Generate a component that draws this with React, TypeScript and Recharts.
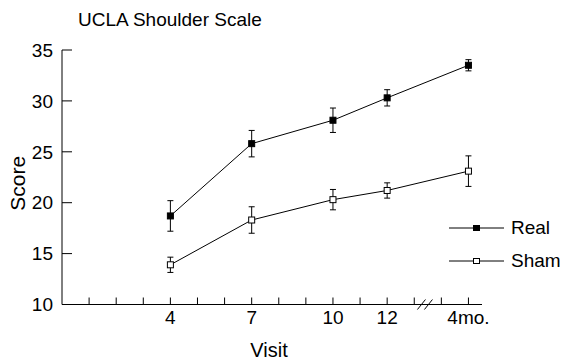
import React from 'react';
import { LineChart, Line, XAxis, YAxis, ErrorBar, Legend, ReferenceDot } from 'recharts';

// visit number on the x scale (4mo. follow-up drawn at 15, after the axis break)
const visits = [4, 7, 10, 12, 15];
const realScore = [18.7, 25.8, 28.1, 30.3, 33.5];
const realErr = [1.5, 1.3, 1.2, 0.8, 0.55];
const shamScore = [13.9, 18.3, 20.3, 21.2, 23.1];
const shamErr = [0.75, 1.3, 1.0, 0.75, 1.5];

const xTicks = [1, 2, 3, 4, 5, 6, 7, 8, 9, 10, 11, 12, 13, 14, 15];
const xTickLabels: Record<number, string> = { 4: '4', 7: '7', 10: '10', 12: '12', 15: '4mo.' };
const yTicks = [10, 15, 20, 25, 30, 35];
const axisBreakAt = 13.45;

const data = visits.map((v, i) => ({
  visit: v,
  real: realScore[i],
  realErr: realErr[i],
  sham: shamScore[i],
  shamErr: shamErr[i],
}));

const FONT = '"Liberation Sans", Arial, Helvetica, sans-serif';

const squareDot = (fill: string) => (p: any) => (
  <rect
    key={`d-${p.index}`}
    x={p.cx - 3}
    y={p.cy - 3}
    width={6}
    height={6}
    fill={fill}
    stroke="#000"
    strokeWidth={1}
  />
);

const legendItems = [
  { name: 'Real', fill: '#000' },
  { name: 'Sham', fill: '#fff' },
];

const renderLegend = () => (
  <div style={{ fontFamily: FONT, fontSize: 19, color: '#000' }}>
    {legendItems.map((it) => (
      <div key={it.name} style={{ display: 'flex', alignItems: 'center', height: 33.5 }}>
        <svg width={56} height={12} style={{ display: 'block' }}>
          <line x1={0} y1={6} x2={55} y2={6} stroke="#000" strokeWidth={1} />
          <rect x={24.5} y={3.5} width={6} height={5} fill={it.fill} stroke="#000" strokeWidth={1} />
        </svg>
        <span style={{ marginLeft: 6 }}>{it.name}</span>
      </div>
    ))}
  </div>
);

const AxisBreak = (p: any) => (
  <g>
    <line x1={p.cx - 9} y1={p.cy + 5} x2={p.cx - 1} y2={p.cy - 5} stroke="#000" strokeWidth={1} />
    <line x1={p.cx - 2} y1={p.cy + 5} x2={p.cx + 6} y2={p.cy - 5} stroke="#000" strokeWidth={1} />
  </g>
);

export default function App() {
  return (
    <div style={{ position: 'absolute', left: 0, top: 0, width: 563, height: 361, background: '#fff' }}>
      <div
        style={{
          position: 'absolute',
          left: 78,
          top: 10,
          fontFamily: FONT,
          fontSize: 19,
          lineHeight: '19px',
          color: '#000',
          whiteSpace: 'nowrap',
        }}
      >
        UCLA Shoulder Scale
      </div>
      <LineChart width={563} height={361} data={data} margin={{ top: 50, right: 81, bottom: 16.5, left: 12 }}>
        <XAxis
          dataKey="visit"
          type="number"
          domain={[0, 15.5]}
          ticks={xTicks}
          interval={0}
          tickFormatter={(v: number) => xTickLabels[v] ?? ''}
          height={40}
          tickSize={-7}
          tickMargin={13}
          stroke="#000"
          tick={{ fill: '#000', fontSize: 19, fontFamily: FONT }}
          label={{
            content: ({ viewBox }: any) => (
              <text
                x={viewBox.x + viewBox.width / 2 - 3}
                y={viewBox.y + 52}
                textAnchor="middle"
                fontFamily={FONT}
                fontSize={20}
                fill="#000"
              >
                Visit
              </text>
            ),
          }}
        />
        <YAxis
          type="number"
          domain={[10, 35]}
          ticks={yTicks}
          interval={0}
          width={50}
          tickSize={-10}
          tickMargin={19}
          stroke="#000"
          tick={{ fill: '#000', fontSize: 19, fontFamily: FONT }}
          label={{
            content: ({ viewBox }: any) => {
              const x = viewBox.x + 13;
              const y = viewBox.y + viewBox.height / 2 + 6;
              return (
                <text
                  x={x}
                  y={y}
                  textAnchor="middle"
                  transform={`rotate(-90 ${x} ${y})`}
                  fontFamily={FONT}
                  fontSize={21}
                  fill="#000"
                >
                  Score
                </text>
              );
            },
          }}
        />
        <ReferenceDot x={axisBreakAt} y={10} r={0} ifOverflow="visible" shape={AxisBreak} />
        <Line
          dataKey="real"
          name="Real"
          stroke="#000"
          strokeWidth={1}
          dot={squareDot('#000')}
          isAnimationActive={false}
        >
          <ErrorBar dataKey="realErr" width={3} stroke="#000" strokeWidth={1} direction="y" isAnimationActive={false} />
        </Line>
        <Line
          dataKey="sham"
          name="Sham"
          stroke="#000"
          strokeWidth={1}
          dot={squareDot('#fff')}
          isAnimationActive={false}
        >
          <ErrorBar dataKey="shamErr" width={3} stroke="#000" strokeWidth={1} direction="y" isAnimationActive={false} />
        </Line>
        <Legend
          layout="vertical"
          align="center"
          verticalAlign="middle"
          content={renderLegend}
          wrapperStyle={{ left: 449, top: 211, width: 114 }}
        />
      </LineChart>
    </div>
  );
}
